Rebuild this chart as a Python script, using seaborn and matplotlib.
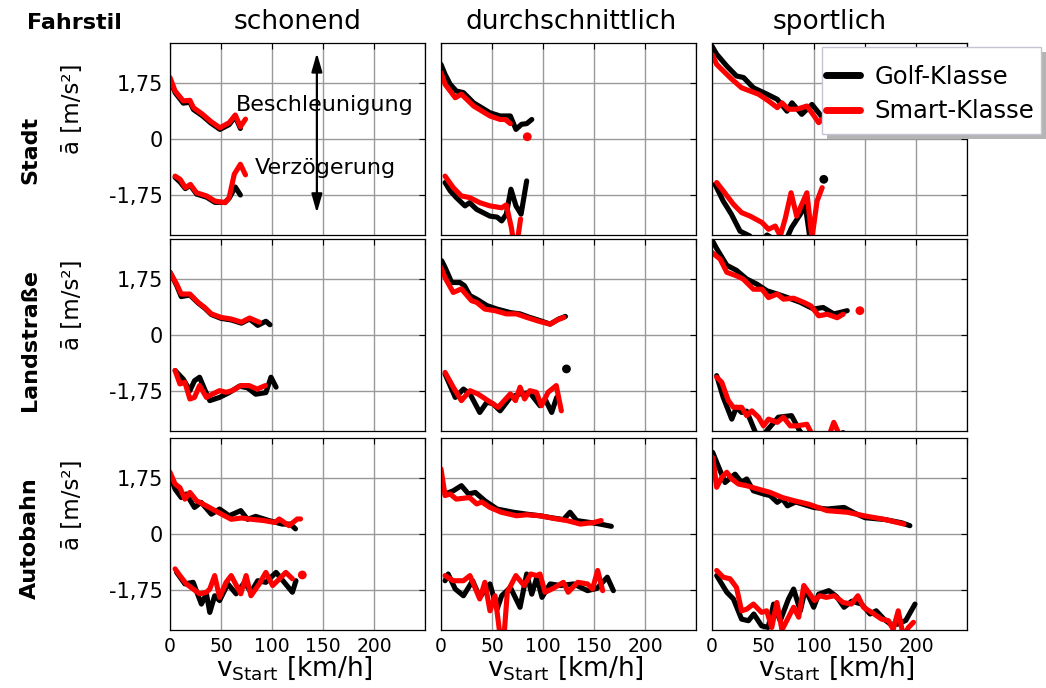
import matplotlib
matplotlib.use("Agg")
import matplotlib.pyplot as plt
from matplotlib.lines import Line2D
from matplotlib.patches import Rectangle
import numpy as np
import pandas as pd
import seaborn as sns

# ---------------------------------------------------------------------------
# Mean acceleration (acc) and deceleration (dec) in m/s^2 over start speed in km/h
# Panels: road type (rows) x driving style (columns), two vehicle classes each.
# ---------------------------------------------------------------------------
ROADS = ["Stadt", "Landstraße", "Autobahn"]
STYLES = ["schonend", "durchschnittlich", "sportlich"]
KLASSEN = ["Golf-Klasse", "Smart-Klasse"]
SPEED_TICKS = [0, 50, 100, 150, 200, 250]
SPEED_TICK_LABELS = ["0", "50", "100", "150", "200", ""]
ACC_TICKS = [-1.75, 0, 1.75]
ACC_TICK_LABELS = ["-1,75", "0", "1,75"]

# Stadt / schonend
stadt_schonend_golf_acc = [(0, 1.85), (5, 1.45), (13, 1.12), (19.5, 1.15), (23, 0.92), (32, 0.72),
                           (40, 0.5), (49, 0.3), (58, 0.45), (64, 0.7), (69, 0.33)]
stadt_schonend_smart_acc = [(0, 1.92), (5, 1.5), (13, 1.19), (19.5, 1.21), (23, 0.98), (32, 0.77),
                            (40, 0.55), (49, 0.35), (58, 0.51), (64, 0.75), (69, 0.38), (74, 0.62)]
stadt_schonend_golf_dec = [(5, -1.2), (10, -1.35), (15, -1.55), (20, -1.45), (26, -1.72), (36, -1.82),
                           (44, -1.98), (54, -1.98), (58, -1.85), (64, -1.5), (69, -1.75)]
stadt_schonend_smart_dec = [(5, -1.16), (10, -1.26), (15, -1.52), (20, -1.42), (26, -1.68), (36, -1.78),
                            (44, -1.94), (54, -1.99), (58, -1.83), (63, -1.1), (69, -0.79), (74, -1.12)]

# Stadt / durchschnittlich
stadt_durch_golf_acc = [(0, 2.33), (4, 2.02), (9, 1.71), (15, 1.5), (22, 1.45), (32, 1.13), (48, 0.82),
                        (58, 0.72), (68, 0.72), (73.5, 0.3), (79, 0.46), (84, 0.48), (89, 0.61)]
stadt_durch_smart_acc = [(0, 2.07), (4, 1.71), (14, 1.29), (20, 1.4), (32, 1.03), (48, 0.72),
                         (58, 0.61), (63, 0.61), (68, 0.48)]
stadt_durch_golf_dec = [(4, -1.36), (9, -1.62), (15, -1.83), (23.5, -2.09), (28, -1.99), (35, -2.2),
                        (48, -2.41), (55, -2.44), (59.5, -2.56), (64, -2.35), (68.6, -1.57),
                        (73.5, -2.09), (78.5, -2.35), (84, -1.31)]
stadt_durch_smart_dec = [(4, -1.16), (12, -1.52), (20, -1.78), (28, -1.83), (38, -1.99), (48, -2.09),
                         (59.5, -2.15), (64, -2.06), (69, -2.77), (73, -3.6), (78, -2.5)]

# Stadt / sportlich
stadt_sport_golf_acc = [(0, 2.9), (4.6, 2.65), (14.5, 2.28), (24, 1.97), (31, 1.92), (40.6, 1.6),
                        (54, 1.4), (64, 1.24), (73.5, 0.87), (78.4, 1.13), (88, 0.77), (98, 1.08),
                        (104.6, 0.82), (110, 0.6)]
stadt_sport_smart_acc = [(0, 2.65), (4.6, 2.33), (17.7, 1.92), (29, 1.6), (45.6, 1.4), (55.4, 1.19),
                         (64, 0.98), (68.6, 1.13), (75, 0.93), (83, 0.93), (93, 1.03), (99, 0.77),
                         (104.6, 0.51), (108, 0.62)]
stadt_sport_golf_dec = [(3, -1.42), (11, -1.94), (19, -2.35), (27.5, -2.88), (37, -3.03), (45, -3.3),
                        (54, -3.0), (59, -3.1), (65, -3.3), (72, -3.2), (78, -2.77), (86.6, -2.35),
                        (91.5, -2.09), (96, -3.1), (101, -3.4)]
stadt_sport_smart_dec = [(4.6, -1.36), (11, -1.62), (21, -2.04), (29, -2.3), (37.4, -2.41), (49, -2.61),
                         (55.4, -2.82), (62, -2.72), (67, -3.03), (72, -2.46), (77.5, -1.68),
                         (83, -2.41), (93, -1.68), (98, -3.1), (103, -1.94), (108, -1.52)]

# Landstraße / schonend
land_schonend_golf_acc = [(0, 1.96), (6.5, 1.55), (11, 1.2), (19.5, 1.25), (27.5, 1.0), (34, 0.84),
                          (40.5, 0.64), (50, 0.52), (60, 0.47), (70, 0.37), (78, 0.5), (86, 0.3),
                          (94, 0.43), (98, 0.32)]
land_schonend_smart_acc = [(0, 1.96), (6.5, 1.59), (11, 1.28), (19.5, 1.28), (27.5, 1.02), (34, 0.86),
                           (40.5, 0.66), (50, 0.55), (60, 0.5), (70, 0.4), (78, 0.53), (87.5, 0.4)]
land_schonend_golf_dec = [(5, -1.11), (13, -1.38), (19.5, -1.74), (24, -1.43), (29, -1.32), (34, -1.7),
                          (39, -2.05), (48.6, -1.95), (58, -1.8), (68, -1.6), (76, -1.65), (84, -1.85),
                          (94, -1.8), (99, -1.32), (104, -1.63)]
land_schonend_smart_dec = [(5, -1.11), (9.7, -1.53), (14.6, -1.48), (19.5, -2.0), (24, -1.95),
                           (29, -1.58), (35.7, -1.95), (42, -1.84), (48.6, -1.74), (55, -1.79),
                           (61, -1.74), (69.4, -1.58), (77.5, -1.58), (85.5, -1.69), (93.5, -1.58)]

# Landstraße / durchschnittlich
land_durch_golf_acc = [(0.7, 2.32), (4, 2.11), (10.5, 1.64), (18.6, 1.64), (23, 1.54), (28.4, 1.23),
                       (35, 1.12), (45, 0.92), (55, 0.81), (68, 0.7), (77.5, 0.66), (87, 0.55),
                       (97, 0.45), (107, 0.34), (115.5, 0.5), (122, 0.58)]
land_durch_smart_acc = [(0, 2.11), (4, 1.79), (12, 1.33), (20, 1.44), (30, 1.07), (35, 1.02), (43, 0.81),
                        (53, 0.76), (64, 0.66), (74, 0.66), (84, 0.55), (97, 0.42), (107, 0.34),
                        (114, 0.47), (120.5, 0.55)]
land_durch_golf_dec = [(4, -1.22), (14, -1.95), (22, -1.69), (28.4, -1.84), (38, -2.42), (45, -2.1),
                       (51, -2.15), (58, -2.37), (68, -1.95), (77.5, -1.84), (87, -1.8), (97, -2.21),
                       (102, -2.0), (108.5, -2.42), (113.4, -1.95)]
land_durch_smart_dec = [(4, -1.17), (12, -1.63), (20, -2.05), (28.4, -1.74), (36, -1.84), (46, -2.05),
                        (56, -2.26), (68, -1.84), (73, -2.05), (77.5, -1.63), (82, -2.0), (87, -1.74),
                        (93.5, -1.79), (98.4, -2.21), (105, -1.79), (113, -1.58), (118, -2.37)]

# Landstraße / sportlich
land_sport_golf_acc = [(0, 2.97), (4.6, 2.7), (14.5, 2.18), (24, 2.02), (34, 1.75), (44, 1.59),
                       (54, 1.38), (64, 1.28), (74, 1.17), (86.6, 1.02), (99.7, 0.81), (109, 0.86),
                       (119.4, 0.66), (125, 0.7), (132.6, 0.76)]
land_sport_smart_acc = [(0, 2.58), (8, 2.37), (14.5, 1.96), (24, 1.85), (30.5, 1.75), (40.6, 1.43),
                        (49, 1.43), (55.4, 1.17), (64, 1.28), (70, 1.12), (80, 1.15), (90, 1.02),
                        (97, 0.91), (104.6, 0.6), (113, 0.65), (122.7, 0.54), (128.6, 0.65)]
land_sport_golf_dec = [(4.6, -1.27), (11, -1.95), (19.4, -2.63), (24, -2.26), (29, -2.42), (34, -2.38),
                       (42, -3.0), (47, -3.3), (53.5, -3.0), (65, -2.57), (78, -2.52), (86, -3.0),
                       (95, -3.3), (105, -3.4), (115, -3.3), (128.6, -3.05), (133, -3.3)]
land_sport_smart_dec = [(4.6, -1.32), (9.6, -1.48), (16, -2.05), (21, -2.26), (29, -2.26), (34, -2.52),
                        (39, -2.37), (45.6, -2.57), (50.5, -2.84), (55.4, -2.63), (64, -2.73),
                        (70, -2.57), (76.8, -2.84), (83, -2.84), (93, -2.79), (98, -3.1),
                        (106, -3.4), (113, -3.3), (119.4, -2.73), (124, -3.05)]

# Autobahn / schonend
auto_schonend_golf_acc = [(0, 1.85), (5, 1.4), (11, 1.14), (16, 1.25), (24, 0.83), (30.5, 0.99),
                          (40.5, 0.62), (48.6, 0.78), (58, 0.57), (69.4, 0.73), (76, 0.46), (84, 0.55),
                          (97, 0.42), (110, 0.31), (118, 0.31), (123, 0.16)]
auto_schonend_smart_acc = [(0, 1.93), (5, 1.56), (9.7, 1.45), (14.6, 1.09), (19.5, 1.3), (26, 1.04),
                           (35.7, 0.88), (47, 0.68), (60, 0.46), (70, 0.5), (80, 0.46), (92, 0.42),
                           (103, 0.36), (107, 0.47), (116.7, 0.26), (124.8, 0.47), (128, 0.47)]
auto_schonend_golf_dec = [(6.5, -1.2), (14.6, -1.56), (22.7, -1.51), (30.8, -2.19), (35.7, -1.87),
                          (39, -2.45), (43.8, -1.93), (48.6, -2.08), (56.7, -1.56), (64.8, -1.87),
                          (73, -1.51), (79.4, -1.82), (86, -1.46), (94, -1.51), (104, -1.2),
                          (112, -1.51), (120, -1.82), (123.5, -1.46)]
auto_schonend_smart_dec = [(5, -1.09), (9.7, -1.3), (16, -1.56), (22.7, -1.72), (29, -1.87),
                           (35.7, -1.82), (39, -1.72), (43.8, -1.3), (48.6, -1.98), (55, -1.51),
                           (60, -1.3), (69.4, -1.87), (74.6, -1.3), (79.4, -1.93), (87.5, -1.56),
                           (94, -1.2), (100.6, -1.61), (105.5, -1.46), (113.5, -1.2), (120, -1.4)]

# Autobahn / durchschnittlich
auto_durch_golf_acc = [(4, 1.25), (12, 1.35), (20, 1.51), (27, 1.25), (33.6, 1.3), (43, 1.04), (55, 0.78),
                       (71, 0.68), (84, 0.62), (97, 0.57), (110, 0.5), (120, 0.45), (126.5, 0.68),
                       (133, 0.42), (146, 0.36), (156, 0.31), (167, 0.24)]
auto_durch_smart_acc = [(0, 2.03), (4, 1.2), (9, 1.25), (15, 1.09), (28, 1.14), (35, 0.94), (40, 1.0),
                        (48, 0.83), (59, 0.68), (74, 0.57), (84, 0.6), (97, 0.57), (110, 0.49),
                        (123.5, 0.42), (136.6, 0.31), (150, 0.36), (157, 0.42)]
auto_durch_golf_dec = [(4, -1.46), (7, -1.25), (14, -1.72), (22, -1.93), (31, -1.46), (38, -1.98),
                       (48, -1.56), (55, -2.35), (59.5, -1.93), (68, -1.67), (77.5, -2.29), (84, -1.25),
                       (89, -1.88), (94, -1.35), (99, -1.98), (107, -1.56), (117, -1.61), (130, -1.56),
                       (143.6, -1.77), (153, -1.7), (163, -1.35), (169, -1.77)]
auto_durch_smart_dec = [(4, -1.3), (12, -1.46), (22, -1.46), (28.4, -1.3), (38, -2.03), (43, -1.51),
                        (48, -2.4), (53, -1.93), (58, -3.2), (62, -3.1), (65, -1.82), (73.4, -1.3),
                        (81.5, -1.61), (88, -1.25), (94, -1.3), (97, -1.25), (102, -1.82), (110, -1.7),
                        (120, -1.51), (124.7, -1.82), (134, -1.51), (143.6, -1.56), (148.5, -1.72),
                        (153.6, -1.14), (158.5, -1.77)]

# Autobahn / sportlich
auto_sport_golf_acc = [(0.7, 2.55), (4.6, 2.24), (12.8, 1.61), (22.6, 1.87), (29, 1.61), (34, 1.72),
                       (40.6, 1.35), (50.5, 1.25), (57, 1.2), (64, 0.99), (69, 1.1), (74, 0.88),
                       (82, 1.0), (99.7, 0.83), (112.8, 0.78), (129.5, 0.83), (140, 0.65),
                       (150, 0.51), (170, 0.45), (186, 0.35), (194, 0.26)]
auto_sport_smart_acc = [(0.7, 2.39), (4.6, 1.46), (9.6, 1.77), (14.5, 1.93), (19.4, 1.72), (26, 1.56),
                        (35, 1.5), (45.6, 1.4), (57, 1.3), (69, 1.14), (80.4, 1.04), (95, 0.93),
                        (112.8, 0.73), (132.6, 0.68), (149, 0.57), (168.6, 0.46), (188.3, 0.31)]
auto_sport_golf_dec = [(4.6, -1.3), (14.5, -1.82), (21, -2.03), (29, -2.66), (35.7, -2.71), (41, -2.5),
                       (48.6, -2.87), (55, -2.92), (60.4, -2.19), (66.9, -2.71), (75, -2.03), (80, -1.72),
                       (86.6, -2.4), (91.5, -1.72), (99.7, -2.29), (104.6, -1.88), (114.5, -1.77),
                       (122, -1.95), (129.5, -2.29), (137, -2.1), (146.6, -2.19), (155, -2.5),
                       (161, -2.4), (168.6, -2.66), (175, -2.82), (181.7, -2.82), (190, -2.7),
                       (199, -2.19)]
auto_sport_smart_dec = [(4.6, -1.14), (11, -1.35), (17.7, -1.4), (24, -1.67), (29, -2.4), (34, -2.35),
                        (40.6, -2.19), (48.6, -2.45), (53.6, -2.4), (58.6, -2.92), (63.6, -2.14),
                        (68.6, -3.0), (75, -2.6), (80, -2.29), (85, -2.6), (90, -1.61), (100.6, -2.08),
                        (105.6, -1.93), (112, -1.98), (120, -1.93), (128.6, -2.14), (136.6, -2.19),
                        (143, -1.93), (148.5, -2.29), (156.6, -2.45), (166.3, -2.66), (173, -2.71),
                        (177.6, -2.98), (182.6, -2.4), (187.6, -3.2), (192.6, -2.92), (197.5, -2.76)]

# Single isolated speed bins (road, style, class, v, a)
isolated_points = [
    ("Stadt", "durchschnittlich", "Smart-Klasse", 84.6, 0.07),
    ("Stadt", "sportlich", "Golf-Klasse", 109.6, -1.26),
    ("Landstraße", "durchschnittlich", "Golf-Klasse", 123, -1.06),
    ("Landstraße", "sportlich", "Smart-Klasse", 145, 0.76),
    ("Autobahn", "schonend", "Smart-Klasse", 129.7, -1.28),
]

SERIES = {
    ("Stadt", "schonend"): [stadt_schonend_golf_acc, stadt_schonend_smart_acc,
                            stadt_schonend_golf_dec, stadt_schonend_smart_dec],
    ("Stadt", "durchschnittlich"): [stadt_durch_golf_acc, stadt_durch_smart_acc,
                                    stadt_durch_golf_dec, stadt_durch_smart_dec],
    ("Stadt", "sportlich"): [stadt_sport_golf_acc, stadt_sport_smart_acc,
                             stadt_sport_golf_dec, stadt_sport_smart_dec],
    ("Landstraße", "schonend"): [land_schonend_golf_acc, land_schonend_smart_acc,
                                 land_schonend_golf_dec, land_schonend_smart_dec],
    ("Landstraße", "durchschnittlich"): [land_durch_golf_acc, land_durch_smart_acc,
                                         land_durch_golf_dec, land_durch_smart_dec],
    ("Landstraße", "sportlich"): [land_sport_golf_acc, land_sport_smart_acc,
                                  land_sport_golf_dec, land_sport_smart_dec],
    ("Autobahn", "schonend"): [auto_schonend_golf_acc, auto_schonend_smart_acc,
                               auto_schonend_golf_dec, auto_schonend_smart_dec],
    ("Autobahn", "durchschnittlich"): [auto_durch_golf_acc, auto_durch_smart_acc,
                                       auto_durch_golf_dec, auto_durch_smart_dec],
    ("Autobahn", "sportlich"): [auto_sport_golf_acc, auto_sport_smart_acc,
                                auto_sport_golf_dec, auto_sport_smart_dec],
}
SERIES_KEYS = [("Golf-Klasse", "acc"), ("Smart-Klasse", "acc"),
               ("Golf-Klasse", "dec"), ("Smart-Klasse", "dec")]

rows = []
for (road, fahrstil), series_list in SERIES.items():
    for (klasse, kind), pts in zip(SERIES_KEYS, series_list):
        for v, a in pts:
            rows.append(dict(road=road, fahrstil=fahrstil, klasse=klasse, kind=kind, v=v, a=a))
df = pd.DataFrame(rows)
dots = pd.DataFrame(isolated_points, columns=["road", "fahrstil", "klasse", "v", "a"])

PALETTE = {"Golf-Klasse": "#000000", "Smart-Klasse": "#ff0000"}

# ---------------------------------------------------------------------------
sns.set_style("white")
plt.rcParams["font.family"] = ["DejaVu Sans"]
plt.rcParams["text.color"] = "black"
plt.rcParams["axes.labelcolor"] = "black"
plt.rcParams["xtick.color"] = "black"
plt.rcParams["ytick.color"] = "black"
plt.rcParams["axes.linewidth"] = 0.9

W, H = 1046, 688
fig = plt.figure(figsize=(W / 100, H / 100), dpi=100)

col_left = [170, 441, 712]
col_width = 255
row_top = [43, 239, 438]
row_height = 192


def fx(px):
    return px / W


def fy(py):
    return 1 - py / H


axes = {}
for r, road in enumerate(ROADS):
    for c, fahrstil in enumerate(STYLES):
        ax = fig.add_axes([fx(col_left[c]), fy(row_top[r] + row_height),
                           col_width / W, row_height / H])
        axes[(road, fahrstil)] = ax
        sub = df[(df["road"] == road) & (df["fahrstil"] == fahrstil)]
        sns.lineplot(data=sub, x="v", y="a", hue="klasse", units="kind",
                     estimator=None, sort=False, hue_order=KLASSEN, palette=PALETTE,
                     linewidth=3.7, legend=False, ax=ax, solid_joinstyle="round")
        dsub = dots[(dots["road"] == road) & (dots["fahrstil"] == fahrstil)]
        if len(dsub):
            sns.scatterplot(data=dsub, x="v", y="a", hue="klasse", hue_order=KLASSEN,
                            palette=PALETTE, s=40, edgecolor="none", legend=False, ax=ax)
        ax.set_xlim(0, 250)
        ax.set_ylim(-3, 3)
        ax.set_xticks(SPEED_TICKS)
        ax.set_yticks(ACC_TICKS)
        ax.grid(True, color="0.6", linewidth=1.0)
        ax.set_axisbelow(True)
        ax.tick_params(direction="in", length=4, width=0.8, top=True, right=True,
                       pad=5, colors="black")
        ax.tick_params(axis="y", labelsize=15)
        ax.tick_params(axis="x", labelsize=13.5)
        if c == 0:
            ax.set_yticklabels(ACC_TICK_LABELS)
        else:
            ax.set_yticklabels([])
        if r == len(ROADS) - 1:
            ax.set_xticklabels(SPEED_TICK_LABELS)
        else:
            ax.set_xticklabels([])
        ax.set_xlabel("")
        ax.set_ylabel("")
        for sp in ax.spines.values():
            sp.set_color("black")
            sp.set_linewidth(0.9)

# Acceleration / deceleration explanation in the first panel
ax0 = axes[("Stadt", "schonend")]
ax0.annotate("", xy=(144, 2.69), xytext=(144, -2.31),
             arrowprops=dict(arrowstyle="<|-|>,head_length=0.7,head_width=0.2",
                             color="black", lw=1.6, mutation_scale=16, shrinkA=0, shrinkB=0))
ax0.text(152, 1.06, "Beschleunigung", fontsize=16, ha="center", va="center")
ax0.text(152.5, -0.91, "Verzögerung", fontsize=16, ha="center", va="center")

# Column titles and row labels
for fahrstil, cx in zip(STYLES, [298, 571, 830]):
    fig.text(fx(cx), fy(22), fahrstil, fontsize=19, ha="center", va="center")
fig.text(fx(74), fy(23), "Fahrstil", fontsize=16, fontweight="bold", ha="center", va="center")
for road, cy, ly in zip(ROADS, [150, 340, 538], [109, 305, 505]):
    fig.text(fx(30), fy(cy), road, fontsize=16, fontweight="bold", rotation=90,
             ha="center", va="center")
    fig.text(fx(72), fy(ly), "ā [m/s²]", fontsize=16.5, rotation=90,
             ha="center", va="center")
for c in range(3):
    fig.text(fx(col_left[c] + 124), fy(668), r"v$_{\mathrm{Start}}$ [km/h]", fontsize=19,
             ha="center", va="center")

# Legend: framed box with a drop shadow, entries placed inside it
box_x0, box_y0, box_x1, box_y1 = 822, 47, 1041, 134
fig.patches.append(Rectangle((fx(box_x0 + 5), fy(box_y1 + 5)), (box_x1 - box_x0) / W,
                             (box_y1 - box_y0) / H, transform=fig.transFigure,
                             facecolor="#b4b4b4", edgecolor="none", zorder=3))
fig.patches.append(Rectangle((fx(box_x0), fy(box_y1)), (box_x1 - box_x0) / W,
                             (box_y1 - box_y0) / H, transform=fig.transFigure,
                             facecolor="white", edgecolor="#c4c4d4", linewidth=1.0, zorder=3.1))
handles = [Line2D([], [], color=PALETTE[k], lw=5) for k in KLASSEN]
leg = fig.legend(handles, KLASSEN, loc="center left", bbox_to_anchor=(fx(826), fy(94)),
                 bbox_transform=fig.transFigure, fontsize=17.5, frameon=False,
                 borderaxespad=0, borderpad=0, handlelength=1.4, handletextpad=0.6,
                 labelspacing=0.45)
leg.set_zorder(4)

fig.savefig("out.png", dpi=100)
